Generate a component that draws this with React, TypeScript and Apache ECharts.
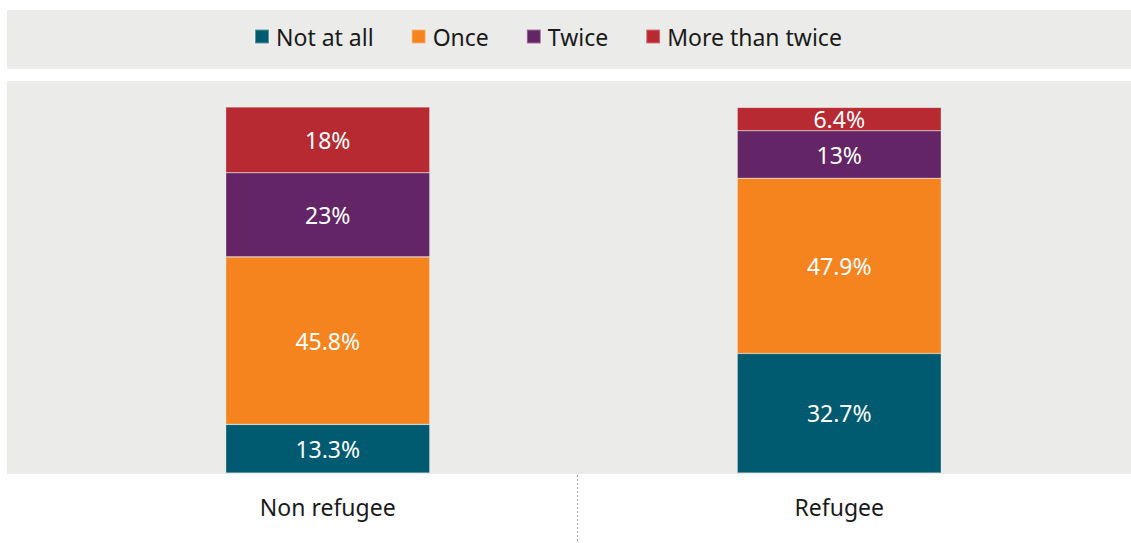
import React, { useEffect, useRef } from "react";
import * as echarts from "echarts";

const categories = ["Non refugee", "Refugee"];
const seriesNames = ["Not at all", "Once", "Twice", "More than twice"];
const notAtAll = [13.3, 32.7];
const once = [45.8, 47.9];
const twice = [23, 13];
const moreThanTwice = [18, 6.4];
const colors = ["#005b70", "#f5841f", "#632566", "#b82a31"];

export default function App() {
  const ref = useRef<HTMLDivElement>(null);
  useEffect(() => {
    if (!ref.current) return;
    const chart = echarts.init(ref.current, null, { renderer: "svg" });
    const values = [notAtAll, once, twice, moreThanTwice];
    const font = "'Noto Sans', sans-serif";
    chart.setOption({
      animation: false,
      graphic: [
        { type: "rect", z: -10, silent: true, shape: { x: 7, y: 10, width: 1124, height: 59 }, style: { fill: "#ebebe9" } },
        { type: "rect", z: -10, silent: true, shape: { x: 7, y: 81, width: 1124, height: 393 }, style: { fill: "#ebebe9" } },
        { type: "line", silent: true, shape: { x1: 577.5, y1: 475, x2: 577.5, y2: 543 }, style: { stroke: "#a6a6a6", lineWidth: 1, lineDash: [2, 2] } },
      ],
      legend: {
        top: 20,
        left: 249,
        itemWidth: 14,
        itemHeight: 14,
        itemGap: 37,
        icon: "rect",
        textStyle: { fontFamily: font, fontSize: 23, color: "#1a1a1a", padding: [0, 0, 0, 2] },
        data: seriesNames,
      },
      grid: { left: 72, width: 1023, top: 107, bottom: 70, containLabel: false },
      xAxis: {
        type: "category",
        data: categories,
        axisLine: { show: false },
        axisTick: { show: false },
        axisLabel: { fontFamily: font, fontSize: 23, color: "#1a1a1a", margin: 22 },
      },
      yAxis: { type: "value", min: 0, max: 100.1, show: false, splitLine: { show: false } },
      series: seriesNames.map((name, i) => ({
        name,
        type: "bar",
        stack: "total",
        barWidth: 204,
        data: values[i],
        itemStyle: { color: colors[i], borderColor: "rgba(255,255,255,0.35)", borderWidth: 0.6 },
        label: {
          show: true,
          position: "inside",
          formatter: (p: any) => p.value + "%",
          color: "#ffffff",
          fontFamily: font,
          fontSize: 23,
        },
      })),
    });
    return () => chart.dispose();
  }, []);
  return <div ref={ref} style={{ width: 1131, height: 543, position: "absolute", left: 0, top: 0 }} />;
}
